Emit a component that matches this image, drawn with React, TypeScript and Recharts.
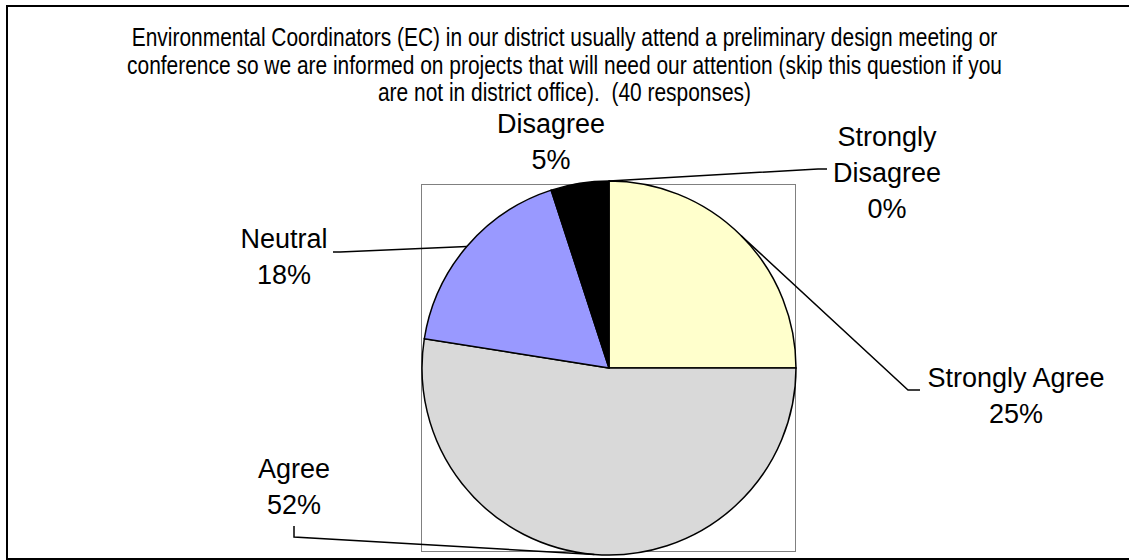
import { Cell, Pie, PieChart } from "recharts";

const categories = ["Strongly Agree", "Agree", "Neutral", "Disagree", "Strongly Disagree"];
const responses = [10, 21, 7, 2, 0];
const sliceColors = ["#FFFFCC", "#D9D9D9", "#9999FF", "#000000", "#FFFFFF"];

const titleLines = [
  "Environmental Coordinators (EC) in our district usually attend a preliminary design meeting or",
  "conference so we are informed on projects that will need our attention (skip this question if you",
  "are not in district office).  (40 responses)"
];

const total = responses.reduce((a, b) => a + b, 0);
const rows = categories.map((name, i) => ({ name, value: responses[i] }));

// excel-style label placement, offsets from the pie centre
const labelLayout: Record<string, { dx: number; dy: number; wrap?: boolean; leader?: number[][] }> = {
  "Strongly Agree": { dx: 407, dy: 19, leader: [[299, 22], [311, 22]] },
  Agree: { dx: -315, dy: 110, leader: [[-315, 169], [-315, 158]] },
  Neutral: { dx: -325, dy: -120, leader: [[-269, -116], [-276, -116]] },
  Disagree: { dx: -58, dy: -235 },
  "Strongly Disagree": { dx: 278, dy: -222, wrap: true, leader: [[209, -199], [218, -199]] }
};

const FONT = "'Liberation Sans', Arial, sans-serif";

// round half to even, like the source sheet shows 52.5% as 52%
function pct(v: number) {
  const p = (v * 100) / total;
  const f = Math.floor(p);
  const diff = p - f;
  const r = diff > 0.5 ? f + 1 : diff < 0.5 ? f : f % 2 === 0 ? f : f + 1;
  return `${r}%`;
}

function renderLabel(props: any) {
  const { cx, cy, midAngle, outerRadius, index } = props;
  const name = categories[index];
  const layout = labelLayout[name];
  if (!layout) return null;
  const rad = Math.PI / 180;
  const ex = cx + outerRadius * Math.cos(-midAngle * rad);
  const ey = cy + outerRadius * Math.sin(-midAngle * rad);
  const lines = layout.wrap ? name.split(" ") : [name];
  lines.push(pct(responses[index]));
  const pts = layout.leader
    ? [[ex, ey], ...layout.leader.map(([x, y]) => [cx + x, cy + y])]
    : null;
  return (
    <g key={`lbl-${index}`}>
      {pts && (
        <polyline
          points={pts.map((p) => p.join(",")).join(" ")}
          fill="none"
          stroke="#000"
          strokeWidth={1.5}
        />
      )}
      <text
        x={cx + layout.dx}
        y={cy + layout.dy}
        textAnchor="middle"
        fontFamily={FONT}
        fontSize={27}
        fill="#000"
      >
        {lines.map((t, i) => (
          <tspan key={i} x={cx + layout.dx} dy={i === 0 ? 0 : 36}>
            {t}
          </tspan>
        ))}
      </text>
    </g>
  );
}

export default function App() {
  return (
    <div style={{ position: "relative", width: 1129, height: 560, overflow: "hidden", background: "#fff" }}>
      <style>{`body{margin:0}`}</style>
      <div
        style={{
          position: "absolute",
          left: 6,
          top: 5,
          width: 1140,
          height: 555,
          boxSizing: "border-box",
          border: "2px solid #000"
        }}
      />
      {/* title is a condensed face in the source, so squeeze it sideways */}
      <div
        style={{
          position: "absolute",
          left: 0,
          top: 24,
          width: 1129,
          textAlign: "center",
          fontFamily: FONT,
          fontSize: 26,
          lineHeight: "27.5px",
          whiteSpace: "pre",
          color: "#000",
          transform: "scaleX(0.805)",
          transformOrigin: "564.5px 0"
        }}
      >
        {titleLines.map((l, i) => (
          <div key={i}>{l}</div>
        ))}
      </div>
      <div
        style={{
          position: "absolute",
          left: 421,
          top: 184,
          width: 375,
          height: 368,
          boxSizing: "border-box",
          border: "1px solid #808080"
        }}
      />
      <div style={{ position: "absolute", left: 0, top: 0 }}>
        <PieChart width={1129} height={560} margin={{ top: 0, right: 0, bottom: 0, left: 0 }}>
          <Pie
            data={rows}
            dataKey="value"
            nameKey="name"
            cx={609}
            cy={368}
            outerRadius={187}
            startAngle={90}
            endAngle={-270}
            stroke="#000"
            strokeWidth={1.5}
            label={renderLabel}
            labelLine={false}
            isAnimationActive={false}
          >
            {rows.map((r, i) => (
              <Cell key={r.name} fill={sliceColors[i]} />
            ))}
          </Pie>
        </PieChart>
      </div>
    </div>
  );
}
